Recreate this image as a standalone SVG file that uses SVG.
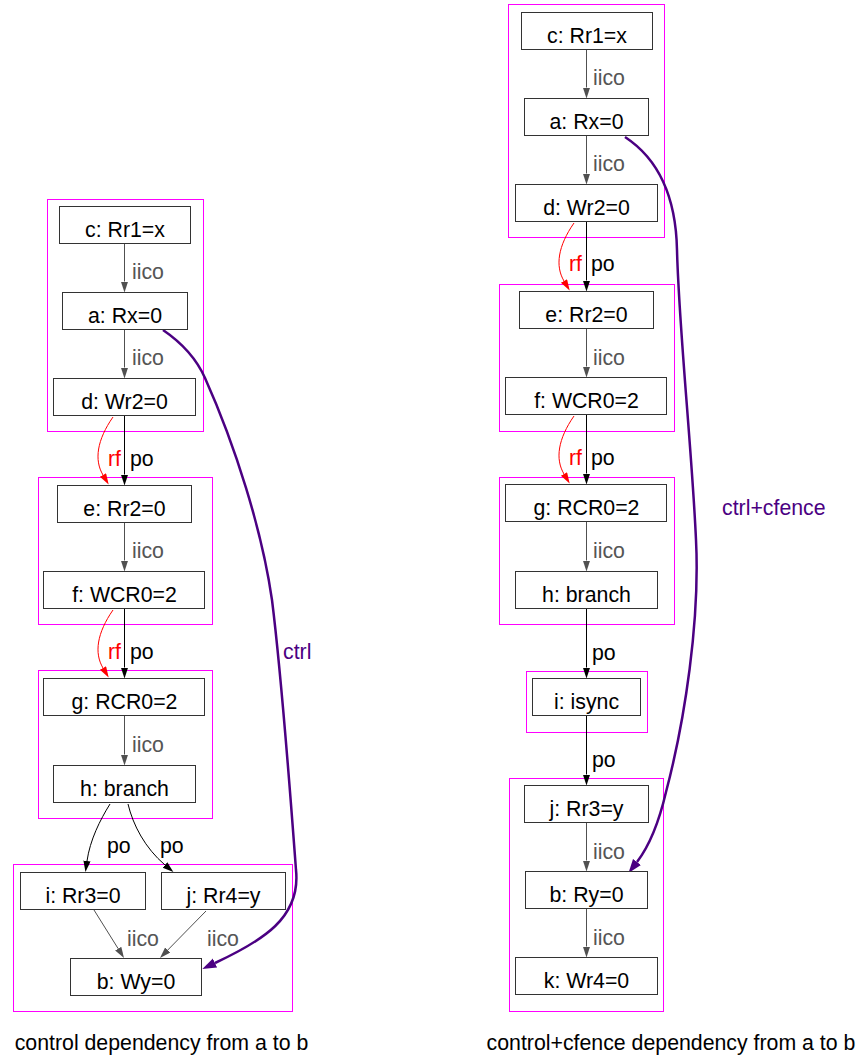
<svg xmlns="http://www.w3.org/2000/svg" width="859" height="1057" viewBox="0 0 859 1057">
<style>
text{font-family:"Liberation Sans",Arial,sans-serif;font-size:21.3px}
.n rect{fill:#fff;stroke:#333;stroke-width:1}
.n text{text-anchor:middle;fill:#000}
.cl{fill:none;stroke:#f0f;stroke-width:1}
.ii{stroke:#505050;stroke-width:1;fill:none;marker-end:url(#ag)}
.po{stroke:#000;stroke-width:1;fill:none;marker-end:url(#ab)}
.rf{stroke:#f00;stroke-width:1;fill:none;marker-end:url(#ar)}
.ct{stroke:#4b0082;stroke-width:2.5;fill:none;marker-end:url(#ap)}
.li{fill:#555}
.lp{fill:#000}
.lr{fill:#f00}
.lc{fill:#4b0082}
.cap{fill:#000;text-anchor:middle}
</style>
<defs>
<marker id="ag" markerWidth="11" markerHeight="8" refX="0" refY="3.6" orient="auto" markerUnits="userSpaceOnUse"><path d="M0,0 L11,3.6 L0,7.2 z" fill="#505050"/></marker>
<marker id="ab" markerWidth="11" markerHeight="8" refX="0" refY="3.6" orient="auto" markerUnits="userSpaceOnUse"><path d="M0,0 L11,3.6 L0,7.2 z" fill="#000"/></marker>
<marker id="ar" markerWidth="11" markerHeight="8" refX="0" refY="3.6" orient="auto" markerUnits="userSpaceOnUse"><path d="M0,0 L11,3.6 L0,7.2 z" fill="#f00"/></marker>
<marker id="ap" markerWidth="14" markerHeight="11" refX="0" refY="5" orient="auto" markerUnits="userSpaceOnUse"><path d="M0,0 L14,5 L0,10 z" fill="#4b0082"/></marker>
</defs>

<g id="clusters">
<rect class="cl" x="47.5" y="199.5" width="156" height="232"/>
<rect class="cl" x="38.5" y="477.5" width="174" height="147"/>
<rect class="cl" x="38.5" y="670.5" width="174" height="148"/>
<rect class="cl" x="13.5" y="864.5" width="279" height="147"/>
<rect class="cl" x="508.5" y="4.5" width="156" height="233"/>
<rect class="cl" x="499.5" y="284.5" width="175" height="147"/>
<rect class="cl" x="499.5" y="477.5" width="175" height="147"/>
<rect class="cl" x="526.5" y="671.5" width="121" height="61"/>
<rect class="cl" x="509.5" y="778.5" width="154" height="233"/>
</g>

<g id="edges">
<line class="ii" x1="124.5" y1="244" x2="124.5" y2="281.5"/>
<line class="ii" x1="124.5" y1="330" x2="124.5" y2="367.5"/>
<line class="po" x1="124.5" y1="416" x2="124.5" y2="474.5"/>
<path class="rf" d="M113,417 C97,440 94,460 103,475"/>
<line class="ii" x1="124.5" y1="523" x2="124.5" y2="560.5"/>
<line class="po" x1="124.5" y1="609" x2="124.5" y2="667.5"/>
<path class="rf" d="M113,610 C97,633 94,653 103,668"/>
<line class="ii" x1="124.5" y1="716" x2="124.5" y2="754.5"/>
<path class="po" d="M110,804 C100,820 90,840 87,861"/>
<path class="po" d="M128,804 C133,825 145,848 165,865"/>
<line class="ii" x1="94" y1="910" x2="118.2" y2="948.7"/>
<line class="ii" x1="206" y1="911" x2="167.7" y2="950.1"/>
<path class="ct" d="M163,330 C185,345 197,360 205,378 C235,445 262,530 272,600 C282,680 290,790 296,870 C301,918 262,941 215,963"/>
<line class="ii" x1="586.5" y1="50" x2="586.5" y2="87.5"/>
<line class="ii" x1="586.5" y1="136" x2="586.5" y2="173.5"/>
<line class="po" x1="586.5" y1="222" x2="586.5" y2="280.5"/>
<path class="rf" d="M574,223 C558,246 555,266 564,281"/>
<line class="ii" x1="586.5" y1="329" x2="586.5" y2="366.5"/>
<line class="po" x1="586.5" y1="415" x2="586.5" y2="473.5"/>
<path class="rf" d="M574,416 C558,439 555,459 564,474"/>
<line class="ii" x1="586.5" y1="522" x2="586.5" y2="560.5"/>
<line class="po" x1="586.5" y1="609" x2="586.5" y2="667.5"/>
<line class="po" x1="586.5" y1="716" x2="586.5" y2="774.5"/>
<line class="ii" x1="586.5" y1="823" x2="586.5" y2="860.5"/>
<line class="ii" x1="586.5" y1="909" x2="586.5" y2="946.5"/>
<path class="ct" d="M625,137 C660,160 676,200 677,250 C679,330 692,450 696,540 C700,620 685,720 666,792 C659,822 650,845 637,862"/>
</g>

<g id="edge-labels">
<text class="li" x="132" y="279">iico</text>
<text class="li" x="132" y="365">iico</text>
<text class="lr" x="108" y="466">rf</text>
<text class="lp" x="130" y="466">po</text>
<text class="li" x="132" y="558">iico</text>
<text class="lr" x="108" y="659">rf</text>
<text class="lp" x="130" y="659">po</text>
<text class="li" x="132" y="752">iico</text>
<text class="lp" x="107" y="853">po</text>
<text class="lp" x="160" y="853">po</text>
<text class="li" x="127" y="946">iico</text>
<text class="li" x="207" y="946">iico</text>
<text class="lc" x="283" y="659">ctrl</text>
<text class="li" x="593" y="85">iico</text>
<text class="li" x="593" y="171">iico</text>
<text class="lr" x="569" y="271">rf</text>
<text class="lp" x="591" y="271">po</text>
<text class="li" x="593" y="365">iico</text>
<text class="lr" x="569" y="465">rf</text>
<text class="lp" x="591" y="465">po</text>
<text class="li" x="593" y="558">iico</text>
<text class="lp" x="592" y="660">po</text>
<text class="lp" x="592" y="767">po</text>
<text class="li" x="593" y="859">iico</text>
<text class="li" x="593" y="945">iico</text>
<text class="lc" x="722" y="515">ctrl+cfence</text>
</g>

<g id="L_c" class="n"><rect x="59.5" y="206.5" width="131" height="37"/><text x="125" y="236.5">c: Rr1=x</text></g>
<g id="L_a" class="n"><rect x="62.5" y="292.5" width="125" height="37"/><text x="125" y="322.5">a: Rx=0</text></g>
<g id="L_d" class="n"><rect x="53.5" y="378.5" width="142" height="37"/><text x="124.5" y="408.5">d: Wr2=0</text></g>
<g id="L_e" class="n"><rect x="57.5" y="485.5" width="134" height="37"/><text x="124.5" y="515.5">e: Rr2=0</text></g>
<g id="L_f" class="n"><rect x="43.5" y="571.5" width="161" height="37"/><text x="124.5" y="601.5">f: WCR0=2</text></g>
<g id="L_g" class="n"><rect x="43.5" y="678.5" width="161" height="37"/><text x="124.5" y="708.5">g: RCR0=2</text></g>
<g id="L_h" class="n"><rect x="53.5" y="765.5" width="142" height="37"/><text x="124.5" y="795.5">h: branch</text></g>
<g id="L_i" class="n"><rect x="20.5" y="872.5" width="125" height="37"/><text x="83" y="902.5">i: Rr3=0</text></g>
<g id="L_j" class="n"><rect x="161.5" y="872.5" width="124" height="37"/><text x="223.5" y="902.5">j: Rr4=y</text></g>
<g id="L_b" class="n"><rect x="70.5" y="958.5" width="131" height="37"/><text x="136" y="988.5">b: Wy=0</text></g>

<g id="R_c" class="n"><rect x="521.5" y="12.5" width="131" height="37"/><text x="587" y="42.5">c: Rr1=x</text></g>
<g id="R_a" class="n"><rect x="524.5" y="98.5" width="124" height="37"/><text x="586.5" y="128.5">a: Rx=0</text></g>
<g id="R_d" class="n"><rect x="515.5" y="184.5" width="142" height="37"/><text x="586.5" y="214.5">d: Wr2=0</text></g>
<g id="R_e" class="n"><rect x="519.5" y="291.5" width="134" height="37"/><text x="586.5" y="321.5">e: Rr2=0</text></g>
<g id="R_f" class="n"><rect x="505.5" y="377.5" width="161" height="37"/><text x="586.5" y="407.5">f: WCR0=2</text></g>
<g id="R_g" class="n"><rect x="505.5" y="484.5" width="161" height="37"/><text x="586.5" y="514.5">g: RCR0=2</text></g>
<g id="R_h" class="n"><rect x="515.5" y="571.5" width="142" height="37"/><text x="586.5" y="601.5">h: branch</text></g>
<g id="R_i" class="n"><rect x="532.5" y="678.5" width="108" height="37"/><text x="586.5" y="708.5">i: isync</text></g>
<g id="R_j" class="n"><rect x="524.5" y="785.5" width="124" height="37"/><text x="586.5" y="815.5">j: Rr3=y</text></g>
<g id="R_b" class="n"><rect x="525.5" y="871.5" width="122" height="37"/><text x="586.5" y="901.5">b: Ry=0</text></g>
<g id="R_k" class="n"><rect x="515.5" y="957.5" width="142" height="37"/><text x="586.5" y="987.5">k: Wr4=0</text></g>

<g id="captions">
<text class="cap" x="161.5" y="1050">control dependency from a to b</text>
<text class="cap" x="671" y="1050">control+cfence dependency from a to b</text>
</g>
</svg>
